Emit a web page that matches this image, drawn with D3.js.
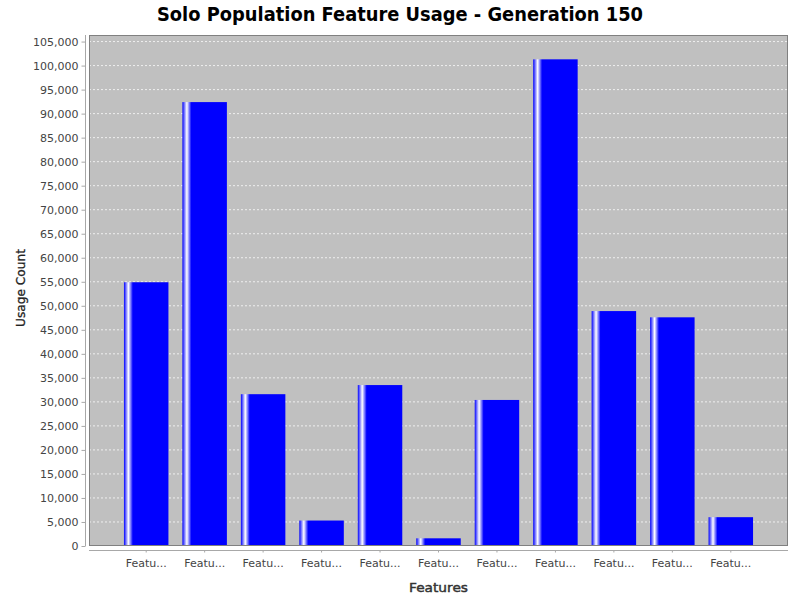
<!DOCTYPE html>
<html>
<head>
<meta charset="utf-8">
<script src="https://cdn.jsdelivr.net/npm/d3@7"></script>
<style>
  body { margin: 0; background: #ffffff; }
  svg { display: block; font-family: "DejaVu Sans", sans-serif; }
</style>
</head>
<body>
<svg id="chart"></svg>
<script>
const width = 800, height = 600;

// chart data
const categories = ["Feature 1", "Feature 2", "Feature 3", "Feature 4", "Feature 5", "Feature 6",
                    "Feature 7", "Feature 8", "Feature 9", "Feature 10", "Feature 11"];
const usage = [54900, 92400, 31600, 5300, 33500, 1600, 30400, 101300, 48900, 47600, 6000];
const yTicks = d3.range(0, 105001, 5000);

const titleText = "Solo Population Feature Usage - Generation 150";
const xLabel = "Features";
const yLabel = "Usage Count";

// plot area (jfreechart style)
const plot = { left: 89, right: 788, top: 35, bottom: 546 };
const lowerMargin = 0.05, upperMargin = 0.05, categoryMargin = 0.2;

const svg = d3.select("#chart")
    .attr("width", width)
    .attr("height", height);

// band scale set up so that bar/gap sizes follow the category axis margins
const W = plot.right - plot.left;
const n = categories.length;
const barW = W * (1 - lowerMargin - upperMargin - categoryMargin) / n;
const gap = W * categoryMargin / (n - 1);
const step = barW + gap;
const x = d3.scaleBand()
    .domain(categories)
    .range([plot.left, plot.right])
    .paddingInner(gap / step)
    .paddingOuter(W * lowerMargin / step);

const y = d3.scaleLinear()
    .domain([0, d3.max(usage) * 1.05])
    .range([plot.bottom, plot.top]);

// gradient like the GradientBarPainter
const defs = svg.append("defs");
const grad = defs.append("linearGradient")
    .attr("id", "barGrad")
    .attr("x1", 0).attr("x2", 1).attr("y1", 0).attr("y2", 0);
grad.append("stop").attr("offset", 0).attr("stop-color", "#0000ff");
grad.append("stop").attr("offset", 0.1).attr("stop-color", "#ffffff");
grad.append("stop").attr("offset", 0.2).attr("stop-color", "#0000ff");
grad.append("stop").attr("offset", 1).attr("stop-color", "#0000ff");

// plot background
svg.append("rect")
    .attr("x", plot.left).attr("y", plot.top)
    .attr("width", W).attr("height", plot.bottom - plot.top)
    .attr("fill", "#c0c0c0");

// gridlines
svg.append("g")
    .selectAll("line")
    .data(yTicks)
    .join("line")
    .attr("x1", plot.left).attr("x2", plot.right)
    .attr("y1", d => y(d)).attr("y2", d => y(d))
    .attr("stroke", "#ffffff")
    .attr("stroke-opacity", 0.75)
    .attr("stroke-width", 1)
    .attr("stroke-dasharray", "2,2");

// bars
svg.append("g")
    .selectAll("rect")
    .data(usage)
    .join("rect")
    .attr("x", (d, i) => x(categories[i]))
    .attr("width", x.bandwidth())
    .attr("y", d => y(d))
    .attr("height", d => y(0) - y(d))
    .attr("fill", "url(#barGrad)");

// plot outline
svg.append("rect")
    .attr("x", plot.left + 0.5).attr("y", plot.top + 0.5)
    .attr("width", W - 1).attr("height", plot.bottom - plot.top - 1)
    .attr("fill", "none")
    .attr("stroke", "#808080");

// y axis
const yAxis = d3.axisLeft(y)
    .tickValues(yTicks)
    .tickFormat(d3.format(","))
    .tickSize(4)
    .tickPadding(3);
const gy = svg.append("g")
    .attr("transform", `translate(${plot.left - 3.5},0)`)
    .call(yAxis);
gy.select(".domain").attr("stroke", "#a8a8a8")
    .attr("d", `M0,${plot.top}V${plot.bottom}`);
gy.selectAll(".tick line").attr("stroke", "#a8a8a8");
gy.selectAll(".tick text")
    .attr("fill", "#444444")
    .style("font-size", "11px")
    .style("font-family", "DejaVu Sans, sans-serif");

// x axis, labels truncated as in the chart
const xAxis = d3.axisBottom(x)
    .tickSize(2)
    .tickPadding(7)
    .tickFormat(d => d.slice(0, 5) + "...");
const gx = svg.append("g")
    .attr("transform", `translate(0,${plot.bottom + 4.5})`)
    .call(xAxis);
gx.select(".domain").attr("stroke", "#a8a8a8")
    .attr("d", `M${plot.left},0H${plot.right}`);
gx.selectAll(".tick line").attr("stroke", "#a8a8a8");
gx.selectAll(".tick text")
    .attr("fill", "#444444")
    .style("font-size", "11px")
    .style("font-family", "DejaVu Sans, sans-serif");

// title
svg.append("text")
    .attr("x", width / 2)
    .attr("y", 21)
    .attr("text-anchor", "middle")
    .attr("textLength", 486)
    .attr("lengthAdjust", "spacingAndGlyphs")
    .style("font-size", "19px")
    .style("font-weight", "bold")
    .attr("fill", "#000000")
    .text(titleText);

// axis labels (medium weight: normal glyphs plus a thin stroke)
svg.append("text")
    .attr("x", (plot.left + plot.right) / 2)
    .attr("y", 591.5)
    .attr("text-anchor", "middle")
    .attr("textLength", 59)
    .attr("lengthAdjust", "spacingAndGlyphs")
    .style("font-size", "13px")
    .attr("fill", "#333333")
    .attr("stroke", "#333333")
    .attr("stroke-width", 0.45)
    .text(xLabel);

svg.append("text")
    .attr("transform", `translate(25,288) rotate(-90)`)
    .attr("text-anchor", "middle")
    .attr("textLength", 78)
    .attr("lengthAdjust", "spacingAndGlyphs")
    .style("font-size", "13px")
    .attr("fill", "#222222")
    .attr("stroke", "#222222")
    .attr("stroke-width", 0.3)
    .text(yLabel);
</script>
</body>
</html>
